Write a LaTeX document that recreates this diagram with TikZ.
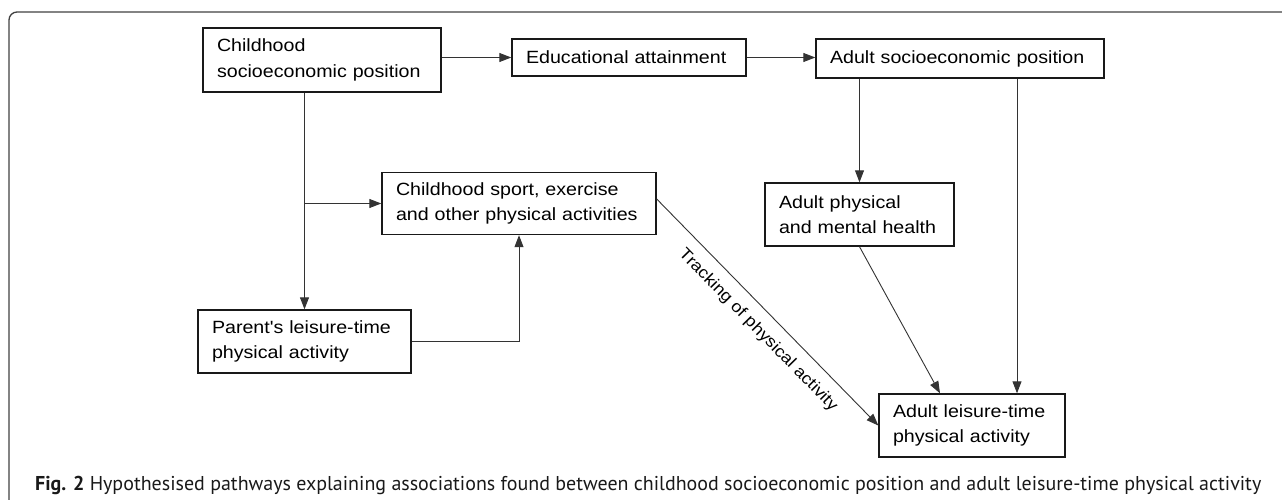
\documentclass[tikz,border=0pt]{standalone}
\usepackage{fontspec}
\usepackage{graphicx}
\usetikzlibrary{arrows.meta}
\newfontfamily\boxfont{Liberation Sans}[FakeStretch=1.11]
\newfontfamily\captfont{PT Sans}
\begin{document}
\begin{tikzpicture}[x=1pt,y=-1pt,
  box/.style={draw=black!90, line width=1.4pt, align=left, inner xsep=14pt,
    font=\boxfont\fontsize{17.7}{25.5}\selectfont},
  conn/.style={draw=black!80, line width=0.9pt, -{Triangle[length=12pt,width=9pt]}}]
\useasboundingbox (0,0) rectangle (1282,500);
% outer frame
\draw[black!75, line width=1.3pt, rounded corners=8pt] (9,500) -- (9,12) -- (1282,12);
\node[box, text width=210pt, minimum height=64pt] (cses) at (322,60) {Childhood\\socioeconomic position};
\node[box, text width=206pt, minimum height=37pt] (edu) at (629,57.5) {Educational attainment};
\node[box, text width=260pt, minimum height=39pt] (ases) at (960,58.5) {Adult socioeconomic position};
\node[box, text width=246pt, minimum height=62pt] (sport) at (519,203.5) {Childhood sport, exercise\\and other physical activities};
\node[box, text width=185pt, minimum height=63pt] (parent) at (304.5,341.5) {Parent's leisure-time\\physical activity};
\node[box, text width=161pt, minimum height=63pt] (health) at (859.5,214.5) {Adult physical\\and mental health};
\node[box, text width=158pt, minimum height=63pt] (adultpa) at (972,425.5) {Adult leisure-time\\physical activity};
% pathways
\draw[conn] (cses.east |- edu.west) -- (edu.west);
\draw[conn] (edu.east) -- (ases.west |- edu.east);
\draw[conn] (parent.north |- cses.south) -- (parent.north);
\draw[conn] (parent.north |- sport.west) -- (sport.west);
\draw[conn] (parent.east) -| (sport.south);
\draw[conn] (health.north |- ases.south) -- (health.north);
\draw[conn] ([xshift=57pt]ases.south) -- ([xshift=45pt]adultpa.north);
\draw[conn] (health.south) -- ([xshift=-32pt]adultpa.north);
\draw[conn] ([yshift=4.5pt]sport.east) -- (adultpa.west)
  node[pos=0.52, sloped, below=8pt, font=\boxfont\fontsize{16.3}{18}\selectfont] {Tracking of physical activity};
% caption
\node[anchor=base west, inner sep=0pt, text=black!90] (caption) at (35,490)
  {\resizebox{1226pt}{14.3pt}{\captfont\textbf{Fig. 2} Hypothesised pathways explaining associations found between childhood socioeconomic position and adult leisure-time physical activity}};
\end{tikzpicture}
\end{document}
